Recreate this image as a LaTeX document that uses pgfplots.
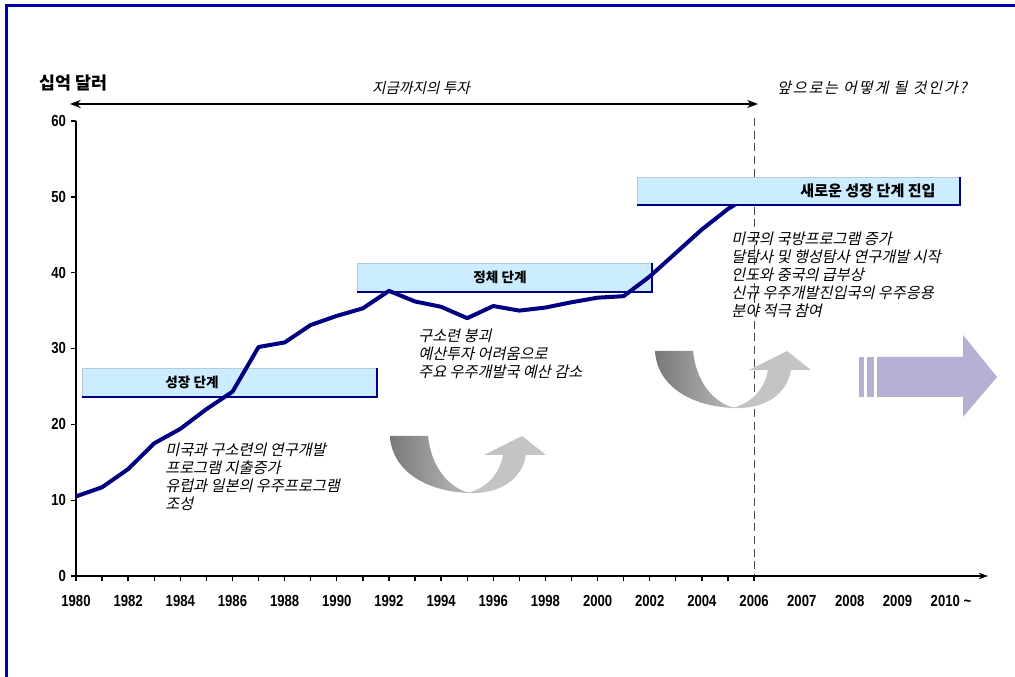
\documentclass[border=0pt]{standalone}
\usepackage{pgfplots}
\pgfplotsset{compat=1.18}
\usepackage{fontspec}
\setmainfont{Liberation Sans}
\newfontfamily\kr{Noto Sans CJK KR}
\newfontfamily\krit[FakeSlant=0.22]{Noto Sans CJK KR}
\newfontfamily\kritw[FakeSlant=0.22,LetterSpace=12]{Noto Sans CJK KR}
\newfontfamily\num[FakeStretch=0.82]{Liberation Sans}
\usetikzlibrary{arrows.meta}
\definecolor{navy}{HTML}{000080}
\definecolor{boxfill}{HTML}{CCECFF}
\definecolor{frameblue}{HTML}{0000B4}
\definecolor{lav}{HTML}{B6B1D3}
\definecolor{gdark}{HTML}{8E8E8E}
\definecolor{glight}{HTML}{C4C4C4}

\pgfplotstableread{
year value
1980 10.5
1981 11.7
1982 14.1
1983 17.5
1984 19.4
1985 22.0
1986 24.3
1987 30.2
1988 30.8
1989 33.1
1990 34.3
1991 35.3
1992 37.6
1993 36.2
1994 35.5
1995 34.0
1996 35.6
1997 35.0
1998 35.4
1999 36.1
2000 36.7
2001 36.9
2002 39.5
2003 42.6
2004 45.7
2005 48.4
2006 50.5
}\investdata

\newcommand\phasebox[4]{%
  \fill[boxfill] (#1,#2) rectangle (#3,#4);
  \draw[boxfill!70!gray, line width=0.4pt] (#1,#4) -- (#1,#2) -- (#3,#2);
  \draw[navy, line width=1.3pt] (#1,#4) -- (#3,#4) -- (#3,#2);
}

\begin{document}
\begin{tikzpicture}
\begin{scope}[x=0.75pt,y=-0.75pt]
\path[use as bounding box] (0,0) rectangle (1015,677);
\fill[white] (0,0) rectangle (1015,677);
\draw[frameblue, line width=1.6pt] (6.5,677) -- (6.5,5.5) -- (1015,5.5);
% phase boxes behind the line
\phasebox{82}{368}{377}{397}
\node[font=\kr\bfseries\fontsize{10.2}{12}\selectfont] at (192,382.5) {성장 단계};
\phasebox{357}{263}{652}{292}
\node[font=\kr\bfseries\fontsize{10.2}{12}\selectfont] at (500,277.5) {정체 단계};
% dashed separator
\draw[black!70, line width=0.6pt, dash pattern=on 6pt off 3.5pt] (754,118) -- (754,576);
\end{scope}

\begin{axis}[
  at={(57pt,-432pt)}, anchor=south west,
  scale only axis, width=684pt, height=341.25pt,
  xmin=1980, xmax=2014.97, ymin=0, ymax=60,
  axis x line*=bottom, axis y line*=left,
  x axis line style={line width=1pt, -{Stealth[length=7pt,width=5pt]}},
  y axis line style={line width=1pt},
  tick align=outside, major tick length=4pt,
  tick style={black, line width=1pt},
  xtick={1980,1981,...,2006},
  xticklabels={1980,,1982,,1984,,1986,,1988,,1990,,1992,,1994,,1996,,1998,,2000,,2002,,2004,,2006},
  extra x ticks={2007.83,2009.67,2011.5,2013.55},
  extra x tick labels={2007,2008,2009,2010 \textasciitilde},
  extra x tick style={tick style={draw=none}},
  ytick={0,10,...,60},
  yticklabels={0,10,20,30,40,50,60},
  ticklabel style={font=\num\bfseries\fontsize{12}{14}\selectfont},
  xticklabel style={yshift=-7pt},
  clip=false,
]
\addplot[navy, line width=3pt, line join=round] table[x=year, y=value] {\investdata};
\end{axis}

\begin{scope}[x=0.75pt,y=-0.75pt]
\phasebox{637}{177}{960}{205}
\node[font=\kr\bfseries\fontsize{11.3}{12}\selectfont] at (868,191) {새로운 성장 단계 진입};

% top titles
\node[font=\kr\bfseries\fontsize{13}{14}\selectfont, anchor=west] at (35,83) {십억 달러};
\node[font=\krit\fontsize{11}{12}\selectfont] at (421,88) {지금까지의 투자};
\node[font=\kritw\fontsize{11.3}{12}\selectfont] at (872,88) {앞으로는 어떻게 될 것인가?};
\draw[line width=1.5pt, {Stealth[length=8pt,width=6pt]}-{Stealth[length=8pt,width=6pt]}] (70,104) -- (758,104);

% annotations
\node[font=\krit\fontsize{11.4}{13.5}\selectfont, anchor=north west, align=left, inner sep=0pt] at (165,443)
 {미국과 구소련의 연구개발\\프로그램 지출증가\\유럽과 일본의 우주프로그램\\조성};
\node[font=\krit\fontsize{11.4}{13.5}\selectfont, anchor=north west, align=left, inner sep=0pt] at (418,329)
 {구소련 붕괴\\예산투자 어려움으로\\주요 우주개발국 예산 감소};
\node[font=\krit\fontsize{11.4}{13.5}\selectfont, anchor=north west, align=left, inner sep=0pt] at (731,232)
 {미국의 국방프로그램 증가\\달탐사 및 행성탐사 연구개발 시작\\인도와 중국의 급부상\\신규 우주개발진입국의 우주응용\\분야 적극 참여};

% curved arrows
\foreach \dx/\dy in {0/0, 265/-85} {
\begin{scope}[shift={(\dx,\dy)}]
 \shade[left color=gdark!85!black, right color=gdark!60!white]
   (390,436) -- (428,436) .. controls (431,466) and (448,488) .. (470,493)
   .. controls (428,492) and (392,472) .. (390,436) -- cycle;
 \fill[glight]
   (466,493) .. controls (487,489) and (500,473) .. (503,455) -- (484,455) -- (522,436) -- (546,455) -- (526,455)
   .. controls (522,479) and (500,495) .. (466,493) -- cycle;
\end{scope}
}
% big right arrow
\fill[lav] (859,357) rectangle (864,397);
\fill[lav] (867,357) rectangle (874,397);
\fill[lav] (877,357) -- (963,357) -- (963,335) -- (997,377) -- (963,417) -- (963,397) -- (877,397) -- cycle;
\end{scope}
\end{tikzpicture}
\end{document}
